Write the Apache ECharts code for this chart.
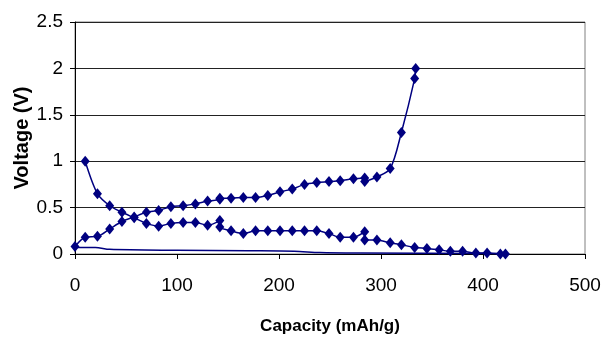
<!DOCTYPE html>
<html>
<head>
<meta charset="utf-8">
<script src="https://cdn.jsdelivr.net/npm/echarts@6/dist/echarts.min.js"></script>
<style>
  html, body { margin: 0; padding: 0; background: #fff; }
  #chart { width: 604px; height: 337px; }
</style>
</head>
<body>
<div id="chart"></div>
<script>
// discharge curve (starts at 1.0 V)
const dischargeCap = [10, 22, 34, 46, 58, 70, 82, 94, 106, 118, 130, 142, 142, 153, 165, 177, 189, 201, 213, 225, 237, 249, 260, 273, 284, 284, 296, 309, 320, 333, 345, 357, 368, 380, 393, 404, 417, 422]
const dischargeV = [1.0, 0.65, 0.52, 0.45, 0.39, 0.33, 0.30, 0.33, 0.34, 0.34, 0.31, 0.36, 0.29, 0.25, 0.22, 0.25, 0.25, 0.25, 0.25, 0.25, 0.25, 0.22, 0.18, 0.18, 0.24, 0.15, 0.15, 0.12, 0.10, 0.07, 0.06, 0.045, 0.03, 0.03, 0.01, 0.01, 0, 0]

// charge curve (ends at 2.0 V)
const chargeCap = [0, 10, 22, 34, 46, 58, 70, 82, 94, 106, 118, 130, 142, 142, 153, 165, 177, 189, 201, 213, 225, 237, 249, 260, 273, 284, 284, 296, 309, 320, 333, 334]
const chargeV = [0.08, 0.18, 0.19, 0.27, 0.35, 0.40, 0.45, 0.47, 0.51, 0.52, 0.54, 0.57, 0.59, 0.60, 0.60, 0.61, 0.61, 0.63, 0.67, 0.70, 0.75, 0.77, 0.78, 0.79, 0.81, 0.82, 0.78, 0.83, 0.92, 1.31, 1.89, 2.0]

// plain line without markers near 0 V
const baseCap = [0, 20, 34, 100, 170, 215, 240, 280, 420]
const baseV = [0.07, 0.07, 0.05, 0.04, 0.035, 0.03, 0.015, 0.01, 0.005]

const xTicks = [0, 100, 200, 300, 400, 500]
const yTicks = [0, 0.5, 1, 1.5, 2, 2.5]

const zip = (a, b) => a.map((v, i) => [v, b[i]])
const navy = '#000080'
const font = 'Liberation Sans, Arial, sans-serif'

const chart = echarts.init(document.getElementById('chart'))
chart.setOption({
  animation: false,
  grid: {
    left: 75,
    right: 19,
    top: 22,
    bottom: 83,
    outerBoundsMode: 'none',
    containLabel: false,
    show: true,
    borderColor: '#808080',
    borderWidth: 1
  },
  xAxis: {
    type: 'value',
    min: xTicks[0],
    max: xTicks[xTicks.length - 1],
    interval: 100,
    name: 'Capacity (mAh/g)',
    nameLocation: 'middle',
    nameGap: 64,
    nameMoveOverlap: false,
    nameTextStyle: { fontFamily: font, fontWeight: 'bold', fontSize: 17, color: '#000', letterSpacing: -0.5 },
    axisLine: { lineStyle: { color: '#000', width: 1 } },
    axisTick: { show: true, inside: false, length: 5, lineStyle: { color: '#000' } },
    axisLabel: { fontFamily: font, fontSize: 19, color: '#000', margin: 22, letterSpacing: -1 },
    splitLine: { show: false }
  },
  yAxis: {
    type: 'value',
    min: yTicks[0],
    max: yTicks[yTicks.length - 1],
    interval: 0.5,
    name: 'Voltage (V)',
    nameLocation: 'middle',
    nameGap: 43,
    nameMoveOverlap: false,
    nameTextStyle: { fontFamily: font, fontWeight: 'bold', fontSize: 20, color: '#000' },
    axisLine: { show: true, lineStyle: { color: '#000', width: 1 } },
    axisTick: { show: true, inside: false, length: 5, lineStyle: { color: '#000' } },
    axisLabel: { fontFamily: font, fontSize: 19, color: '#000', margin: 12, letterSpacing: -1 },
    splitLine: { show: true, lineStyle: { color: '#222', width: 1 } }
  },
  series: [
    {
      type: 'line',
      data: zip(baseCap, baseV),
      smooth: 0.3,
      showSymbol: false,
      lineStyle: { color: navy, width: 1.5 },
      z: 2
    },
    {
      type: 'line',
      data: zip(dischargeCap, dischargeV),
      smooth: 0.3,
      symbol: 'diamond',
      symbolSize: [9, 11],
      itemStyle: { color: navy },
      lineStyle: { color: navy, width: 1.5 },
      z: 3
    },
    {
      type: 'line',
      data: zip(chargeCap, chargeV),
      smooth: 0.3,
      symbol: 'diamond',
      symbolSize: [9, 11],
      itemStyle: { color: navy },
      lineStyle: { color: navy, width: 1.5 },
      z: 3
    }
  ]
})
</script>
</body>
</html>
